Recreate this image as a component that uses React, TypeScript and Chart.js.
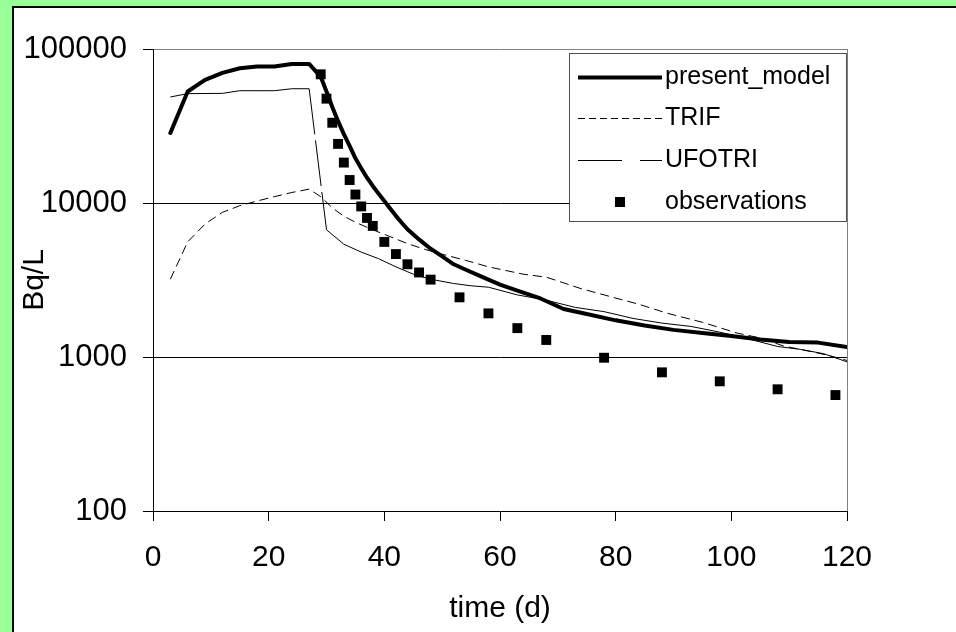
import React, { useEffect, useRef } from 'react';
import { Chart, registerables } from 'chart.js';

Chart.register(...registerables);

const seriesNames = ['present_model', 'TRIF', 'UFOTRI', 'observations'];

const modelDays = [3, 6, 9, 12, 15, 18, 21, 24, 27, 29, 30, 31, 32, 33, 34, 35, 36, 37, 38, 39, 40, 41, 42, 43, 44, 46, 48, 50, 52, 54, 57, 60, 63, 67, 71, 75, 80, 85, 90, 95, 100, 105, 110, 115, 120];
const modelValues = [28500, 53000, 63000, 70000, 75000, 77000, 77000, 80000, 80000, 66000, 53000, 42000, 34000, 28000, 23500, 19500, 16800, 14600, 12900, 11500, 10300, 9200, 8250, 7450, 6750, 5800, 5050, 4500, 4000, 3700, 3300, 2950, 2700, 2400, 2050, 1900, 1730, 1600, 1500, 1430, 1370, 1300, 1250, 1240, 1160];

const trifDays = [3, 6, 9, 12, 15, 18, 21, 24, 27, 29, 31, 33, 35, 38, 41, 44, 47, 50, 54, 58, 64, 68, 74, 78, 84, 89, 95, 101, 105, 109, 114, 117, 120];
const trifValues = [3200, 5600, 7300, 8700, 9600, 10300, 11000, 11700, 12300, 11000, 9300, 8200, 7500, 6700, 6050, 5450, 5000, 4650, 4250, 3850, 3450, 3300, 2780, 2530, 2200, 1920, 1680, 1430, 1330, 1180, 1080, 1020, 950];

const ufotriDays = [3, 6, 9, 12, 15, 18, 21, 24, 27, 30, 33, 36, 39, 42, 45, 48, 52, 55, 58, 63, 68, 73, 78, 83, 88, 93, 98, 103, 108, 112, 116, 120];
const ufotriValues = [48800, 51300, 51400, 51500, 53600, 53600, 53600, 55200, 55200, 6700, 5400, 4800, 4350, 3850, 3450, 3200, 3000, 2900, 2840, 2530, 2340, 2100, 1970, 1780, 1660, 1580, 1450, 1310, 1170, 1120, 1050, 930];

const obsDays = [29, 30, 31, 32, 33, 34, 35, 36, 37, 38, 40, 42, 44, 46, 48, 53, 58, 63, 68, 78, 88, 98, 108, 118];
const obsValues = [68500, 47600, 33200, 24200, 18300, 14100, 11350, 9500, 8000, 7100, 5590, 4660, 4000, 3540, 3180, 2440, 1920, 1540, 1290, 989, 795, 695, 617, 566];

const xTicks = [0, 20, 40, 60, 80, 100, 120];
const yTicks = [100, 1000, 10000, 100000];
const xTitle = 'time (d)';
const yTitle = 'Bq/L';

const FAMILY = '"Liberation Sans", Arial, Helvetica, sans-serif';

function pts(xs: number[], ys: number[]) {
  return xs.map((x, i) => ({ x, y: ys[i] }));
}

const legendPlugin = {
  id: 'boxLegend',
  afterDraw(chart: any) {
    const ctx = chart.ctx as CanvasRenderingContext2D;
    const left = 569, top = 53, w = 277, h = 168;
    const rows = [77, 118, 160, 202];
    ctx.save();
    ctx.fillStyle = '#ffffff';
    ctx.fillRect(left, top, w, h);
    ctx.strokeStyle = '#505050';
    ctx.lineWidth = 1;
    ctx.setLineDash([]);
    ctx.strokeRect(left + 0.5, top + 0.5, w, h);
    seriesNames.forEach((name, i) => {
      const ds = chart.data.datasets.find((d: any) => d.label === name);
      const y = rows[i];
      ctx.strokeStyle = '#000';
      ctx.fillStyle = '#000';
      if (name === 'observations') {
        ctx.fillRect(615, y - 5, 10, 10);
      } else {
        ctx.lineWidth = ds.borderWidth;
        ctx.setLineDash(ds.legendDash || []);
        ctx.beginPath();
        ctx.moveTo(578, y + 0.5);
        ctx.lineTo(662, y + 0.5);
        ctx.stroke();
        ctx.setLineDash([]);
      }
      ctx.font = '25px ' + FAMILY;
      ctx.textBaseline = 'middle';
      ctx.textAlign = 'left';
      ctx.fillText(name, 665, y);
    });
    ctx.restore();
  },
};

export default function App() {
  const ref = useRef<HTMLCanvasElement>(null);

  useEffect(() => {
    if (!ref.current) return;
    const font = { family: FAMILY, size: 30 };
    const yFont = { family: FAMILY, size: 31 };
    const dropIndex = ufotriDays.indexOf(27);
    const chart = new Chart(ref.current, {
      type: 'scatter',
      data: {
        datasets: [
          {
            label: 'observations',
            data: pts(obsDays, obsValues),
            showLine: false,
            pointStyle: 'rect',
            pointRadius: 7,
            pointBackgroundColor: '#000',
            pointBorderWidth: 0,
            backgroundColor: '#000',
            borderColor: '#000',
            order: 0,
          },
          {
            label: 'present_model',
            data: pts(modelDays, modelValues),
            showLine: true,
            borderColor: '#000',
            borderWidth: 4,
            pointRadius: 0,
            tension: 0,
            borderJoinStyle: 'round',
            borderCapStyle: 'round',
            order: 1,
          },
          {
            label: 'TRIF',
            data: pts(trifDays, trifValues),
            showLine: true,
            borderColor: '#000',
            borderWidth: 1,
            borderDash: [9, 5],
            legendDash: [7, 4],
            pointRadius: 0,
            tension: 0,
            order: 2,
          } as any,
          {
            label: 'UFOTRI',
            data: pts(ufotriDays, ufotriValues),
            showLine: true,
            borderColor: '#000',
            borderWidth: 1,
            legendDash: [44, 18],
            pointRadius: 0,
            tension: 0,
            segment: {
              borderDash: (c: any) => (c.p0DataIndex === dropIndex ? [46, 6] : undefined),
            },
            order: 3,
          } as any,
        ],
      },
      options: {
        responsive: false,
        animation: false,
        events: [],
        layout: { padding: { left: 0, top: 49, right: 109, bottom: 0 } },
        plugins: { legend: { display: false }, tooltip: { enabled: false } },
        scales: {
          x: {
            type: 'linear',
            min: 0,
            max: 120,
            afterBuildTicks: (s: any) => {
              s.ticks = xTicks.map((v) => ({ value: v }));
            },
            afterFit: (s: any) => {
              s.height = 121;
            },
            ticks: { font, color: '#000', padding: 19, maxRotation: 0, autoSkip: false, callback: (v: any) => String(v) },
            grid: {
              color: (c: any) => (c.tick && c.tick.value === 120 ? '#808080' : 'rgba(0,0,0,0)'),
              tickColor: '#000',
              tickLength: 10,
              lineWidth: 1,
            },
            border: { color: '#000', width: 1 },
            title: { display: true, text: xTitle, font, color: '#000', padding: { top: 0, bottom: 5 } },
          },
          y: {
            type: 'logarithmic',
            min: 100,
            max: 100000,
            afterBuildTicks: (s: any) => {
              s.ticks = yTicks.map((v) => ({ value: v }));
            },
            afterFit: (s: any) => {
              s.width = 153;
            },
            ticks: { font: yFont, color: '#000', padding: 16, autoSkip: false, callback: (v: any) => String(v) },
            grid: {
              color: (c: any) => {
                const v = c.tick && c.tick.value;
                if (v === 100000) return '#808080';
                if (v === 100) return 'rgba(0,0,0,0)';
                return '#000';
              },
              tickColor: '#000',
              tickLength: 10,
              lineWidth: 1,
            },
            border: { color: '#000', width: 1 },
            title: { display: true, text: yTitle, font, color: '#000', padding: { top: 17, bottom: 0 } },
          },
        },
      } as any,
      plugins: [legendPlugin],
    });
    return () => chart.destroy();
  }, []);

  return (
    <div style={{ position: 'fixed', left: 0, top: 0, width: 956, height: 632, background: '#99ff99', overflow: 'hidden' }}>
      <div
        style={{
          position: 'absolute',
          left: 12,
          top: 6,
          width: 970,
          height: 650,
          background: '#ffffff',
          border: '2px solid #000',
          boxSizing: 'border-box',
        }}
      />
      <canvas ref={ref} width={956} height={632} style={{ position: 'absolute', left: 0, top: 0, width: 956, height: 632 }} />
    </div>
  );
}
